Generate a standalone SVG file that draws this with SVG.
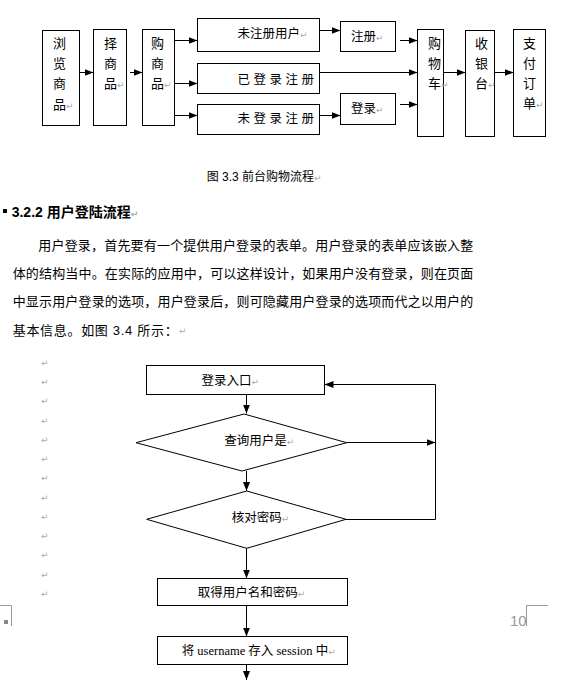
<svg xmlns="http://www.w3.org/2000/svg" width="574" height="682" viewBox="0 0 574 682">
<style>
.bx{fill:#fff;stroke:#000;stroke-width:1}
.dm{fill:#fff;stroke:#000;stroke-width:1}
.t{font-family:"Liberation Sans","Noto Sans CJK SC",sans-serif;font-size:12.5px;fill:#000}
.tv{font-family:"Liberation Sans","Noto Sans CJK SC",sans-serif;font-size:13px;fill:#000}
.p{font-family:"Liberation Sans","Noto Sans CJK SC",sans-serif;font-size:13px;fill:#000}
.h{font-family:"Liberation Sans","Noto Sans CJK SC",sans-serif;font-size:14px;font-weight:bold;fill:#000}
.ser{font-family:"Liberation Serif","Noto Sans CJK SC",serif}
.ret{font-family:"DejaVu Sans",sans-serif;font-size:9px;fill:#aaa}
.c line,.c polyline{stroke:#000;stroke-width:1;fill:none;marker-end:url(#ah)}
.pg{stroke:#999;stroke-width:1;fill:none}
</style>
<defs>
<marker id="ah" markerUnits="userSpaceOnUse" markerWidth="9" markerHeight="7" refX="9" refY="3.5" orient="auto">
<path d="M0,0 L9,3.5 L0,7 z" fill="#000"/>
</marker>
</defs>
<rect width="574" height="682" fill="#fff"/>

<!-- Top diagram -->
<g id="n-browse"><rect class="bx" x="42.5" y="30.5" width="37" height="95"/>
<text class="tv" x="53" y="48">浏</text><text class="tv" x="53" y="68">览</text><text class="tv" x="53" y="88">商</text><text class="tv" x="53" y="109">品<tspan class="ret">↵</tspan></text></g>
<g id="n-select"><rect class="bx" x="93.5" y="29.5" width="33" height="96"/>
<text class="tv" x="104" y="48">择</text><text class="tv" x="104" y="68">商</text><text class="tv" x="104" y="88">品<tspan class="ret">↵</tspan></text></g>
<g id="n-buy"><rect class="bx" x="142.5" y="29.5" width="32" height="96"/>
<text class="tv" x="151" y="48">购</text><text class="tv" x="151" y="68">商</text><text class="tv" x="151" y="88">品<tspan class="ret">↵</tspan></text></g>
<g id="n-unreg"><rect class="bx" x="197.5" y="18.5" width="122" height="33"/>
<text class="t" x="237.5" y="38">未注册用户<tspan class="ret">↵</tspan></text></g>
<g id="n-logged"><rect class="bx" x="197.5" y="63.5" width="122" height="30"/>
<text class="t" x="237.5" y="84">已 登 录 注 册</text></g>
<g id="n-notlogged"><rect class="bx" x="197.5" y="104.5" width="122" height="30"/>
<text class="t" x="237.5" y="123">未 登 录 注 册</text></g>
<g id="n-register"><rect class="bx" x="340.5" y="21.5" width="55" height="30"/>
<text class="t" x="351" y="41">注册<tspan class="ret">↵</tspan></text></g>
<g id="n-login"><rect class="bx" x="340.5" y="93.5" width="55" height="31"/>
<text class="t" x="351" y="113">登录<tspan class="ret">↵</tspan></text></g>
<g id="n-cart"><rect class="bx" x="417.5" y="29.5" width="26" height="107"/>
<text class="tv" x="428" y="48">购</text><text class="tv" x="428" y="68">物</text><text class="tv" x="428" y="88">车<tspan class="ret">↵</tspan></text></g>
<g id="n-cashier"><rect class="bx" x="465.5" y="30.5" width="29" height="106"/>
<text class="tv" x="475" y="48">收</text><text class="tv" x="475" y="68">银</text><text class="tv" x="475" y="88">台<tspan class="ret">↵</tspan></text></g>
<g id="n-pay"><rect class="bx" x="513.5" y="29.5" width="32" height="107"/>
<text class="tv" x="523" y="48">支</text><text class="tv" x="523" y="68">付</text><text class="tv" x="523" y="88">订</text><text class="tv" x="523" y="108">单<tspan class="ret">↵</tspan></text></g>

<!-- Flowchart nodes -->
<g id="n-entry"><rect class="bx" x="146.5" y="365.5" width="178" height="29"/>
<text class="t" x="201.5" y="384.5">登录入口<tspan class="ret">↵</tspan></text></g>
<g id="n-query"><polygon class="dm" points="136,442.7 244,414 346.7,442.7 242,471"/>
<text class="t" x="224.3" y="444.5">查询用户是<tspan class="ret">↵</tspan></text></g>
<g id="n-check"><polygon class="dm" points="146.7,519.3 246.7,491 346,519.3 246.7,548.3"/>
<text class="t" x="231.7" y="522">核对密码<tspan class="ret">↵</tspan></text></g>
<g id="n-get"><rect class="bx" x="157.5" y="578.5" width="190" height="27"/>
<text class="t" x="197.7" y="597">取得用户名和密码<tspan class="ret">↵</tspan></text></g>
<g id="n-store"><rect class="bx" x="157.5" y="636.5" width="190" height="28"/>
<text class="t" x="181.7" y="655">将<tspan class="ser"> username </tspan>存入<tspan class="ser"> session </tspan>中<tspan class="ret">↵</tspan></text></g>

<!-- Connectors -->
<g id="connectors" class="c">
<line x1="79.5" y1="72.5" x2="93.5" y2="72.5"/>
<line x1="130" y1="72.5" x2="142.5" y2="72.5"/>
<line x1="174.5" y1="40.5" x2="197.5" y2="40.5"/>
<line x1="174.5" y1="83.5" x2="197.5" y2="83.5"/>
<line x1="174.5" y1="115.5" x2="197.5" y2="115.5"/>
<line x1="319.5" y1="30.5" x2="340.5" y2="30.5"/>
<line x1="319.5" y1="115.5" x2="340.5" y2="115.5"/>
<line x1="400" y1="40.5" x2="417.5" y2="40.5"/>
<line x1="319.5" y1="72.5" x2="417.5" y2="72.5"/>
<line x1="400" y1="104.5" x2="417.5" y2="104.5"/>
<line x1="443.5" y1="72.5" x2="465.5" y2="72.5"/>
<line x1="494.5" y1="72.5" x2="513.5" y2="72.5"/>
<line x1="246.5" y1="394.5" x2="246.5" y2="413.5"/>
<line x1="346.7" y1="442.5" x2="435.5" y2="442.5"/>
<polyline points="346,519.5 435.5,519.5 435.5,384.5 324.5,384.5"/>
<line x1="246.5" y1="471" x2="246.5" y2="491"/>
<line x1="246.5" y1="548.3" x2="246.5" y2="578.5"/>
<line x1="246.5" y1="605.5" x2="246.5" y2="636.5"/>
<line x1="246.5" y1="664.5" x2="246.5" y2="680"/>
</g>

<!-- Caption, heading, paragraph -->
<text class="t" x="206.7" y="180.5" style="font-size:12px">图 3.3 前台购物流程<tspan class="ret">↵</tspan></text>
<rect x="3" y="209" width="4" height="4" fill="#000"/>
<text class="h" x="11.7" y="216.7">3.2.2 用户登陆流程<tspan class="ret">↵</tspan></text>
<text class="p" x="38.3" y="249.5" textLength="435" lengthAdjust="spacing">用户登录，首先要有一个提供用户登录的表单。用户登录的表单应该嵌入整</text>
<text class="p" x="12.7" y="278" textLength="460.6" lengthAdjust="spacing">体的结构当中。在实际的应用中，可以这样设计，如果用户没有登录，则在页面</text>
<text class="p" x="12.7" y="306.2" textLength="460.6" lengthAdjust="spacing">中显示用户登录的选项，用户登录后，则可隐藏用户登录的选项而代之以用户的</text>
<text class="p" x="12.7" y="334.5" textLength="165" lengthAdjust="spacing">基本信息。如图 3.4 所示：</text>
<text class="ret" x="179" y="334">↵</text>

<!-- paragraph marks column -->
<g class="ret">
<text x="41" y="366">↵</text><text x="41" y="385">↵</text><text x="41" y="404">↵</text><text x="41" y="424">↵</text>
<text x="41" y="443">↵</text><text x="41" y="462">↵</text><text x="41" y="481">↵</text><text x="41" y="501">↵</text>
<text x="41" y="520">↵</text><text x="41" y="539">↵</text><text x="41" y="558">↵</text><text x="41" y="578">↵</text>
<text x="41" y="597">↵</text>
</g>

<!-- page marks -->
<polyline class="pg" points="0,605.5 11.5,605.5 11.5,626"/>
<rect x="4" y="620" width="4" height="4" fill="#888"/>
<polyline class="pg" points="526.5,626 526.5,605.5 548,605.5"/>
<text x="510" y="626" style="font-family:'Liberation Sans',sans-serif;font-size:15px;fill:#999">10</text>
</svg>
